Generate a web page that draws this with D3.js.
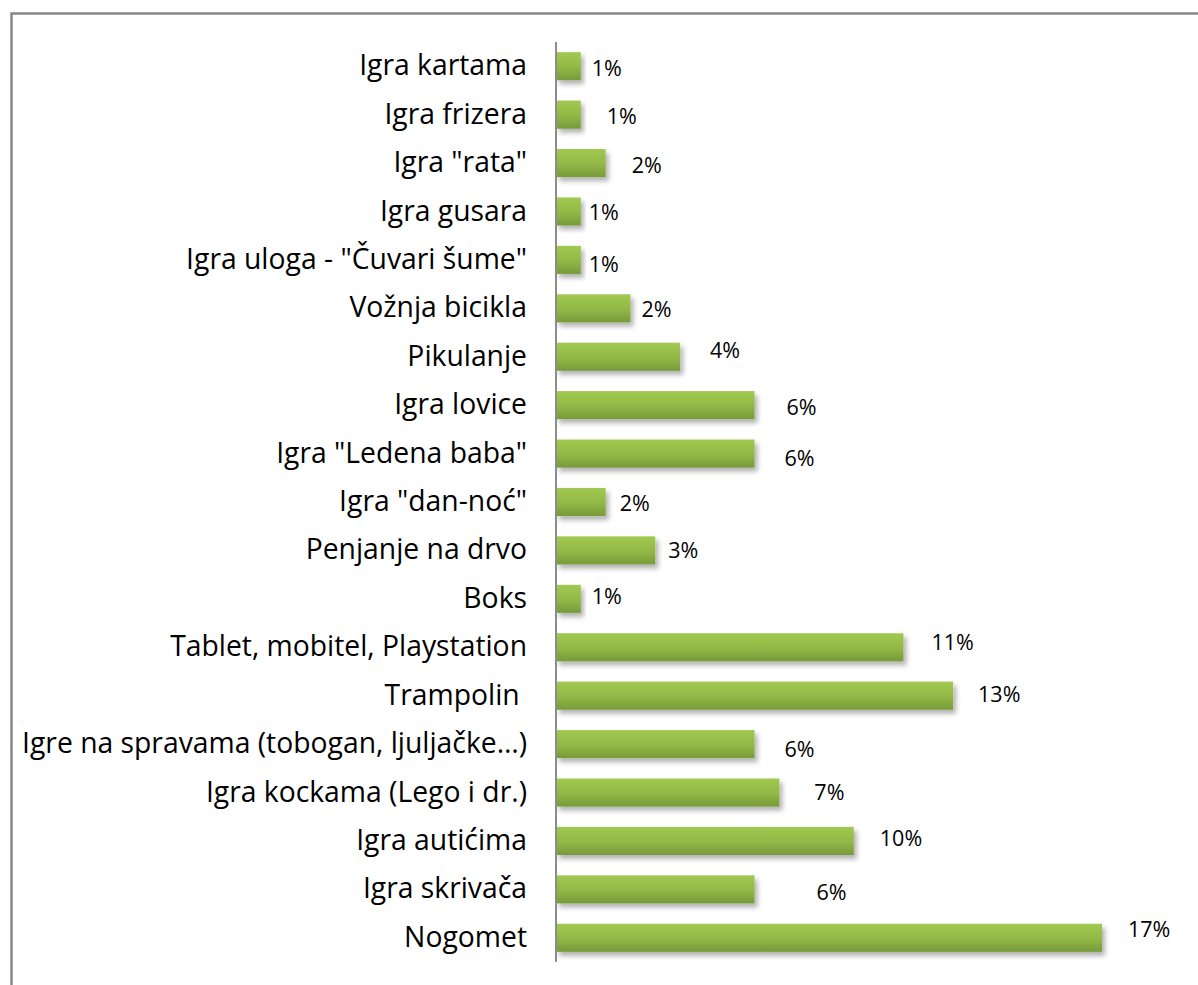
<!DOCTYPE html>
<html>
<head>
<meta charset="utf-8">
<script src="https://cdn.jsdelivr.net/npm/d3@7"></script>
<style>
  body { margin: 0; background: #fff; }
  svg text { font-family: "Open Sans", sans-serif; fill: #000; }
</style>
</head>
<body>
<div id="chart"></div>
<script>
// categories, top to bottom
var categories = ["Igra kartama", "Igra frizera", "Igra \"rata\"", "Igra gusara",
    "Igra uloga - \"Čuvari šume\"", "Vožnja bicikla", "Pikulanje", "Igra lovice",
    "Igra \"Ledena baba\"", "Igra \"dan-noć\"", "Penjanje na drvo", "Boks",
    "Tablet, mobitel, Playstation", "Trampolin ", "Igre na spravama (tobogan, ljuljačke…)",
    "Igra kockama (Lego i dr.)", "Igra autićima", "Igra skrivača", "Nogomet"];
// number of answers per game
var counts = [1, 1, 2, 1, 1, 3, 5, 8, 8, 2, 4, 1, 14, 16, 8, 9, 12, 8, 22];
// data label nudges (excel had them dragged around a bit)
var labelDx = [11, 26, 26, 8, 8, 11, 30, 32, 30, 14, 13, 11, 28, 25, 30, 35, 26, 62, 26];
var labelDy = [2, 2, 2, 1, 5, 1, -6, 2, 5, 1, 0, -2, -5, -1, 5, 0, -2, 3, -8];

var total = d3.sum(counts);
var data = categories.map(function(c, i) {
    return {name: c, count: counts[i], pct: counts[i] / total};
});

var W = 1198, H = 985;
var margin = {top: 42, left: 556, bottom: 23};

var svg = d3.select("#chart").append("svg")
    .attr("width", W)
    .attr("height", H);

// gradient + shadow like the excel "subtle effect" style
var defs = svg.append("defs");
var grad = defs.append("linearGradient")
    .attr("id", "barGrad")
    .attr("x1", 0).attr("y1", 0).attr("x2", 0).attr("y2", 1);
grad.append("stop").attr("offset", "0%").attr("stop-color", "#a1c850");
grad.append("stop").attr("offset", "50%").attr("stop-color", "#93ba47");
grad.append("stop").attr("offset", "100%").attr("stop-color", "#789a3a");

var shadow = defs.append("filter")
    .attr("id", "shadow")
    .attr("x", "-10%").attr("y", "-30%")
    .attr("width", "130%").attr("height", "180%");
shadow.append("feDropShadow")
    .attr("dx", 3).attr("dy", 4)
    .attr("stdDeviation", 2.5)
    .attr("flood-color", "#000")
    .attr("flood-opacity", 0.3);

// outer frame (runs off the right and bottom of the picture)
svg.append("rect")
    .attr("x", 11.5).attr("y", 13.5)
    .attr("width", 1400).attr("height", 1200)
    .attr("fill", "none")
    .attr("stroke", "#878787")
    .attr("stroke-width", 2.5);

var y = d3.scaleBand()
    .domain(categories)
    .range([margin.top, H - margin.bottom])
    .paddingInner(0.42)
    .paddingOuter(0.21);

var x = d3.scaleLinear()
    .domain([0, 22])
    .range([margin.left, 1102]);

var pctFmt = d3.format(".0%");

// bars
svg.append("g")
    .selectAll("rect")
    .data(data)
    .enter().append("rect")
    .attr("x", x(0))
    .attr("y", function(d) { return y(d.name); })
    .attr("width", function(d) { return x(d.count) - x(0); })
    .attr("height", y.bandwidth())
    .attr("fill", "url(#barGrad)")
    .attr("filter", "url(#shadow)");

// category axis
var yAxis = svg.append("g")
    .attr("transform", "translate(" + margin.left + ",0)")
    .call(d3.axisLeft(y).tickSize(0).tickPadding(29));
yAxis.select(".domain")
    .attr("stroke", "#8c8c8c")
    .attr("stroke-width", 2)
    .attr("d", "M0," + margin.top + "V" + (H - margin.bottom));
yAxis.selectAll("text")
    .style("font-family", "'Open Sans', sans-serif")
    .style("font-size", "28.3px")
    .style("white-space", "pre")
    .attr("fill", "#000");

// value labels
svg.append("g")
    .selectAll("text")
    .data(data)
    .enter().append("text")
    .attr("x", function(d, i) { return x(d.count) + labelDx[i]; })
    .attr("y", function(d, i) { return y(d.name) + y.bandwidth() / 2 + labelDy[i]; })
    .attr("dy", "0.35em")
    .style("font-size", "21.5px")
    .text(function(d) { return pctFmt(d.pct); });
</script>
</body>
</html>
